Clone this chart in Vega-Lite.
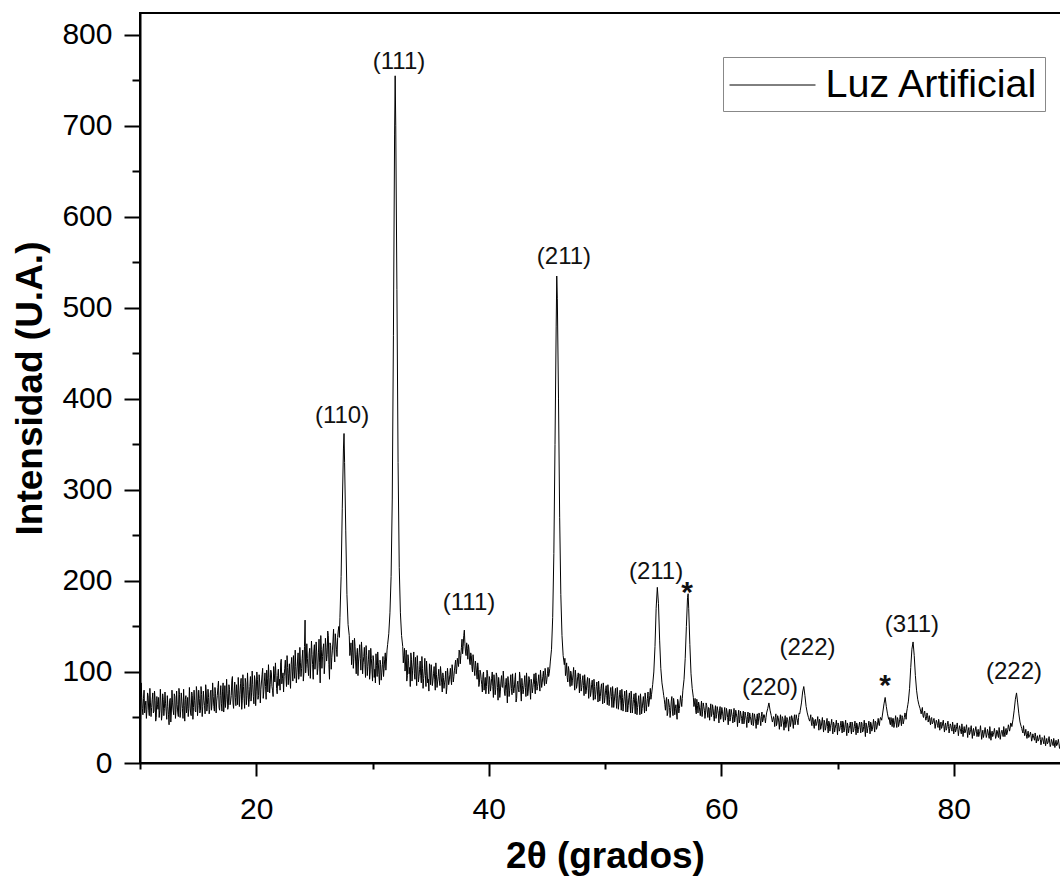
{
"$schema": "https://vega.github.io/schema/vega-lite/v6.json",
"width": 930, "height": 750,
"autosize": {"type": "none"},
"padding": {"left": 140, "top": 13, "right": 0, "bottom": 123},
"background": "white",
"config": {"view": {"stroke": "black", "strokeWidth": 2}, "font": "Liberation Sans"},
"layer": [
{
"data": {"values": [
{"x":10.0,"y":62},{"x":10.1,"y":88},{"x":10.2,"y":60},{"x":10.3,"y":71},{"x":10.4,"y":55},{"x":10.5,"y":68},{"x":10.6,"y":59},{"x":10.7,"y":74},{"x":10.8,"y":52},{"x":10.9,"y":66},
{"x":11.0,"y":61},{"x":11.1,"y":77},{"x":11.2,"y":57},{"x":11.3,"y":69},{"x":11.4,"y":50},{"x":11.5,"y":64},{"x":11.6,"y":72},{"x":11.7,"y":58},{"x":11.8,"y":67},{"x":11.9,"y":54},
{"x":12.0,"y":70},{"x":12.1,"y":60},{"x":12.2,"y":65},{"x":12.3,"y":48},{"x":12.4,"y":62},{"x":12.5,"y":42},{"x":12.6,"y":71},{"x":12.7,"y":56},{"x":12.8,"y":66},{"x":12.9,"y":53},
{"x":13.0,"y":73},{"x":13.1,"y":59},{"x":13.2,"y":64},{"x":13.3,"y":51},{"x":13.4,"y":75},{"x":13.5,"y":57},{"x":13.6,"y":68},{"x":13.7,"y":49},{"x":13.8,"y":63},{"x":13.9,"y":70},
{"x":14.0,"y":55},{"x":14.1,"y":72},{"x":14.2,"y":60},{"x":14.3,"y":66},{"x":14.4,"y":52},{"x":14.5,"y":74},{"x":14.6,"y":61},{"x":14.7,"y":69},{"x":14.8,"y":56},{"x":14.9,"y":77},
{"x":15.0,"y":63},{"x":15.1,"y":71},{"x":15.2,"y":58},{"x":15.3,"y":75},{"x":15.4,"y":62},{"x":15.5,"y":69},{"x":15.6,"y":54},{"x":15.7,"y":78},{"x":15.8,"y":64},{"x":15.9,"y":72},
{"x":16.0,"y":59},{"x":16.1,"y":80},{"x":16.2,"y":66},{"x":16.3,"y":73},{"x":16.4,"y":57},{"x":16.5,"y":76},{"x":16.6,"y":68},{"x":16.7,"y":83},{"x":16.8,"y":61},{"x":16.9,"y":74},
{"x":17.0,"y":65},{"x":17.1,"y":79},{"x":17.2,"y":56},{"x":17.3,"y":85},{"x":17.4,"y":70},{"x":17.5,"y":76},{"x":17.6,"y":63},{"x":17.7,"y":81},{"x":17.8,"y":68},{"x":17.9,"y":91},
{"x":18.0,"y":66},{"x":18.1,"y":78},{"x":18.2,"y":72},{"x":18.3,"y":86},{"x":18.4,"y":64},{"x":18.5,"y":80},{"x":18.6,"y":75},{"x":18.7,"y":93},{"x":18.8,"y":69},{"x":18.9,"y":84},
{"x":19.0,"y":60},{"x":19.1,"y":88},{"x":19.2,"y":74},{"x":19.3,"y":81},{"x":19.4,"y":70},{"x":19.5,"y":95},{"x":19.6,"y":77},{"x":19.7,"y":86},{"x":19.8,"y":65},{"x":19.9,"y":90},
{"x":20.0,"y":79},{"x":20.1,"y":92},{"x":20.2,"y":74},{"x":20.3,"y":88},{"x":20.4,"y":81},{"x":20.5,"y":97},{"x":20.6,"y":71},{"x":20.7,"y":90},{"x":20.8,"y":84},{"x":20.9,"y":102},
{"x":21.0,"y":78},{"x":21.1,"y":94},{"x":21.2,"y":86},{"x":21.3,"y":99},{"x":21.4,"y":80},{"x":21.5,"y":106},{"x":21.6,"y":89},{"x":21.7,"y":96},{"x":21.8,"y":76},{"x":21.9,"y":103},
{"x":22.0,"y":92},{"x":22.1,"y":110},{"x":22.2,"y":87},{"x":22.3,"y":99},{"x":22.4,"y":95},{"x":22.5,"y":113},{"x":22.6,"y":84},{"x":22.7,"y":105},{"x":22.8,"y":98},{"x":22.9,"y":91},
{"x":23.0,"y":108},{"x":23.1,"y":101},{"x":23.2,"y":118},{"x":23.3,"y":93},{"x":23.4,"y":106},{"x":23.5,"y":99},{"x":23.6,"y":121},{"x":23.7,"y":97},{"x":23.8,"y":110},{"x":23.9,"y":104},
{"x":24.0,"y":124},{"x":24.1,"y":100},{"x":24.2,"y":157},{"x":24.3,"y":108},{"x":24.4,"y":115},{"x":24.5,"y":96},{"x":24.6,"y":126},{"x":24.7,"y":111},{"x":24.8,"y":119},{"x":24.9,"y":92},
{"x":25.0,"y":130},{"x":25.1,"y":112},{"x":25.2,"y":122},{"x":25.3,"y":104},{"x":25.4,"y":136},{"x":25.5,"y":88},{"x":25.6,"y":125},{"x":25.7,"y":117},{"x":25.8,"y":131},{"x":25.9,"y":110},
{"x":26.0,"y":127},{"x":26.1,"y":119},{"x":26.2,"y":140},{"x":26.3,"y":92},{"x":26.4,"y":129},{"x":26.5,"y":116},{"x":26.6,"y":134},{"x":26.7,"y":122},{"x":26.8,"y":142},{"x":26.9,"y":125},
{"x":27.0,"y":138},{"x":27.1,"y":150},{"x":27.2,"y":160},{"x":27.3,"y":205},{"x":27.4,"y":280},{"x":27.5,"y":345},{"x":27.55,"y":362},{"x":27.6,"y":330},{"x":27.7,"y":255},{"x":27.8,"y":185},{"x":27.9,"y":152},
{"x":28.0,"y":140},{"x":28.1,"y":124},{"x":28.2,"y":108},{"x":28.3,"y":135},{"x":28.4,"y":115},{"x":28.5,"y":128},{"x":28.6,"y":98},{"x":28.7,"y":126},{"x":28.8,"y":112},{"x":28.9,"y":130},
{"x":29.0,"y":102},{"x":29.1,"y":122},{"x":29.2,"y":110},{"x":29.3,"y":127},{"x":29.4,"y":94},{"x":29.5,"y":118},{"x":29.6,"y":106},{"x":29.7,"y":124},{"x":29.8,"y":100},{"x":29.9,"y":115},
{"x":30.0,"y":90},{"x":30.1,"y":112},{"x":30.2,"y":103},{"x":30.3,"y":120},{"x":30.4,"y":95},{"x":30.5,"y":110},{"x":30.6,"y":86},{"x":30.7,"y":108},{"x":30.8,"y":99},{"x":30.9,"y":117},
{"x":31.0,"y":104},{"x":31.1,"y":121},{"x":31.2,"y":112},{"x":31.3,"y":130},{"x":31.4,"y":142},{"x":31.5,"y":165},{"x":31.6,"y":205},{"x":31.7,"y":290},{"x":31.8,"y":470},{"x":31.9,"y":690},{"x":31.95,"y":755},
{"x":32.0,"y":700},{"x":32.1,"y":520},{"x":32.2,"y":330},{"x":32.3,"y":215},{"x":32.4,"y":165},{"x":32.5,"y":140},{"x":32.6,"y":128},{"x":32.7,"y":118},{"x":32.8,"y":101},{"x":32.9,"y":124},
{"x":33.0,"y":96},{"x":33.1,"y":113},{"x":33.2,"y":105},{"x":33.3,"y":121},{"x":33.4,"y":90},{"x":33.5,"y":110},{"x":33.6,"y":98},{"x":33.7,"y":116},{"x":33.8,"y":85},{"x":33.9,"y":107},
{"x":34.0,"y":95},{"x":34.1,"y":112},{"x":34.2,"y":88},{"x":34.3,"y":104},{"x":34.4,"y":93},{"x":34.5,"y":115},{"x":34.6,"y":84},{"x":34.7,"y":101},{"x":34.8,"y":92},{"x":34.9,"y":109},
{"x":35.0,"y":86},{"x":35.1,"y":99},{"x":35.2,"y":91},{"x":35.3,"y":106},{"x":35.4,"y":80},{"x":35.5,"y":97},{"x":35.6,"y":89},{"x":35.7,"y":103},{"x":35.8,"y":85},{"x":35.9,"y":98},
{"x":36.0,"y":78},{"x":36.1,"y":94},{"x":36.2,"y":88},{"x":36.3,"y":101},{"x":36.4,"y":83},{"x":36.5,"y":96},{"x":36.6,"y":90},{"x":36.7,"y":104},{"x":36.8,"y":86},{"x":36.9,"y":100},
{"x":37.0,"y":95},{"x":37.1,"y":108},{"x":37.2,"y":98},{"x":37.3,"y":115},{"x":37.4,"y":106},{"x":37.5,"y":122},{"x":37.6,"y":118},{"x":37.7,"y":136},{"x":37.8,"y":128},{"x":37.9,"y":146},
{"x":38.0,"y":122},{"x":38.1,"y":132},{"x":38.2,"y":114},{"x":38.3,"y":125},{"x":38.4,"y":108},{"x":38.5,"y":118},{"x":38.6,"y":100},{"x":38.7,"y":112},{"x":38.8,"y":96},{"x":38.9,"y":107},
{"x":39.0,"y":92},{"x":39.1,"y":103},{"x":39.2,"y":88},{"x":39.3,"y":99},{"x":39.4,"y":86},{"x":39.5,"y":97},{"x":39.6,"y":80},{"x":39.7,"y":94},{"x":39.8,"y":84},{"x":39.9,"y":98},
{"x":40.0,"y":76},{"x":40.1,"y":91},{"x":40.2,"y":85},{"x":40.3,"y":100},{"x":40.4,"y":72},{"x":40.5,"y":89},{"x":40.6,"y":81},{"x":40.7,"y":95},{"x":40.8,"y":69},{"x":40.9,"y":87},
{"x":41.0,"y":79},{"x":41.1,"y":96},{"x":41.2,"y":83},{"x":41.3,"y":90},{"x":41.4,"y":74},{"x":41.5,"y":93},{"x":41.6,"y":66},{"x":41.7,"y":88},{"x":41.8,"y":80},{"x":41.9,"y":97},
{"x":42.0,"y":75},{"x":42.1,"y":86},{"x":42.2,"y":82},{"x":42.3,"y":99},{"x":42.4,"y":71},{"x":42.5,"y":90},{"x":42.6,"y":78},{"x":42.7,"y":94},{"x":42.8,"y":68},{"x":42.9,"y":85},
{"x":43.0,"y":81},{"x":43.1,"y":96},{"x":43.2,"y":73},{"x":43.3,"y":89},{"x":43.4,"y":79},{"x":43.5,"y":92},{"x":43.6,"y":70},{"x":43.7,"y":87},{"x":43.8,"y":83},{"x":43.9,"y":98},
{"x":44.0,"y":76},{"x":44.1,"y":91},{"x":44.2,"y":84},{"x":44.3,"y":97},{"x":44.4,"y":79},{"x":44.5,"y":93},{"x":44.6,"y":88},{"x":44.7,"y":101},{"x":44.8,"y":85},{"x":44.9,"y":96},
{"x":45.0,"y":92},{"x":45.1,"y":105},{"x":45.2,"y":98},{"x":45.3,"y":112},{"x":45.4,"y":125},{"x":45.5,"y":160},{"x":45.6,"y":230},{"x":45.7,"y":350},{"x":45.8,"y":480},{"x":45.85,"y":535},{"x":45.9,"y":510},
{"x":46.0,"y":400},{"x":46.1,"y":270},{"x":46.2,"y":185},{"x":46.3,"y":140},{"x":46.4,"y":118},{"x":46.5,"y":108},{"x":46.6,"y":96},{"x":46.7,"y":110},{"x":46.8,"y":89},{"x":46.9,"y":102},
{"x":47.0,"y":84},{"x":47.1,"y":98},{"x":47.2,"y":91},{"x":47.3,"y":105},{"x":47.4,"y":80},{"x":47.5,"y":94},{"x":47.6,"y":86},{"x":47.7,"y":99},{"x":47.8,"y":77},{"x":47.9,"y":92},
{"x":48.0,"y":83},{"x":48.1,"y":96},{"x":48.2,"y":74},{"x":48.3,"y":88},{"x":48.4,"y":80},{"x":48.5,"y":94},{"x":48.6,"y":71},{"x":48.7,"y":86},{"x":48.8,"y":78},{"x":48.9,"y":91},
{"x":49.0,"y":69},{"x":49.1,"y":84},{"x":49.2,"y":75},{"x":49.3,"y":89},{"x":49.4,"y":67},{"x":49.5,"y":81},{"x":49.6,"y":73},{"x":49.7,"y":87},{"x":49.8,"y":65},{"x":49.9,"y":79},
{"x":50.0,"y":72},{"x":50.1,"y":85},{"x":50.2,"y":64},{"x":50.3,"y":78},{"x":50.4,"y":70},{"x":50.5,"y":83},{"x":50.6,"y":61},{"x":50.7,"y":76},{"x":50.8,"y":68},{"x":50.9,"y":82},
{"x":51.0,"y":60},{"x":51.1,"y":74},{"x":51.2,"y":67},{"x":51.3,"y":80},{"x":51.4,"y":58},{"x":51.5,"y":72},{"x":51.6,"y":65},{"x":51.7,"y":79},{"x":51.8,"y":56},{"x":51.9,"y":71},
{"x":52.0,"y":63},{"x":52.1,"y":77},{"x":52.2,"y":55},{"x":52.3,"y":70},{"x":52.4,"y":62},{"x":52.5,"y":76},{"x":52.6,"y":54},{"x":52.7,"y":69},{"x":52.8,"y":61},{"x":52.9,"y":74},
{"x":53.0,"y":53},{"x":53.1,"y":68},{"x":53.2,"y":60},{"x":53.3,"y":73},{"x":53.4,"y":55},{"x":53.5,"y":70},{"x":53.6,"y":64},{"x":53.7,"y":78},{"x":53.8,"y":66},{"x":53.9,"y":82},
{"x":54.0,"y":75},{"x":54.1,"y":86},{"x":54.2,"y":100},{"x":54.3,"y":128},{"x":54.4,"y":170},{"x":54.5,"y":193},{"x":54.6,"y":175},{"x":54.7,"y":135},{"x":54.8,"y":104},{"x":54.9,"y":88},
{"x":55.0,"y":79},{"x":55.1,"y":70},{"x":55.2,"y":58},{"x":55.3,"y":72},{"x":55.4,"y":55},{"x":55.5,"y":66},{"x":55.6,"y":50},{"x":55.7,"y":68},{"x":55.8,"y":57},{"x":55.9,"y":71},
{"x":56.0,"y":53},{"x":56.1,"y":64},{"x":56.2,"y":48},{"x":56.3,"y":67},{"x":56.4,"y":60},{"x":56.5,"y":74},{"x":56.6,"y":62},{"x":56.7,"y":80},{"x":56.8,"y":92},{"x":56.9,"y":115},
{"x":57.0,"y":150},{"x":57.1,"y":182},{"x":57.15,"y":186},{"x":57.2,"y":170},{"x":57.3,"y":130},{"x":57.4,"y":98},{"x":57.5,"y":82},{"x":57.6,"y":72},{"x":57.7,"y":66},{"x":57.8,"y":58},{"x":57.9,"y":70},
{"x":58.0,"y":55},{"x":58.1,"y":64},{"x":58.2,"y":52},{"x":58.3,"y":68},{"x":58.4,"y":57},{"x":58.5,"y":62},{"x":58.6,"y":49},{"x":58.7,"y":66},{"x":58.8,"y":56},{"x":58.9,"y":61},
{"x":59.0,"y":47},{"x":59.1,"y":65},{"x":59.2,"y":54},{"x":59.3,"y":60},{"x":59.4,"y":46},{"x":59.5,"y":63},{"x":59.6,"y":53},{"x":59.7,"y":58},{"x":59.8,"y":44},{"x":59.9,"y":62},
{"x":60.0,"y":52},{"x":60.1,"y":57},{"x":60.2,"y":45},{"x":60.3,"y":61},{"x":60.4,"y":51},{"x":60.5,"y":56},{"x":60.6,"y":42},{"x":60.7,"y":59},{"x":60.8,"y":50},{"x":60.9,"y":55},
{"x":61.0,"y":44},{"x":61.1,"y":60},{"x":61.2,"y":49},{"x":61.3,"y":54},{"x":61.4,"y":40},{"x":61.5,"y":58},{"x":61.6,"y":48},{"x":61.7,"y":53},{"x":61.8,"y":43},{"x":61.9,"y":57},
{"x":62.0,"y":47},{"x":62.1,"y":52},{"x":62.2,"y":39},{"x":62.3,"y":56},{"x":62.4,"y":46},{"x":62.5,"y":51},{"x":62.6,"y":42},{"x":62.7,"y":55},{"x":62.8,"y":45},{"x":62.9,"y":50},
{"x":63.0,"y":38},{"x":63.1,"y":54},{"x":63.2,"y":46},{"x":63.3,"y":52},{"x":63.4,"y":41},{"x":63.5,"y":56},{"x":63.6,"y":47},{"x":63.7,"y":53},{"x":63.8,"y":44},{"x":63.9,"y":55},
{"x":64.0,"y":60},{"x":64.1,"y":66},{"x":64.2,"y":58},{"x":64.3,"y":52},{"x":64.4,"y":45},{"x":64.5,"y":51},{"x":64.6,"y":40},{"x":64.7,"y":54},{"x":64.8,"y":44},{"x":64.9,"y":50},
{"x":65.0,"y":37},{"x":65.1,"y":53},{"x":65.2,"y":43},{"x":65.3,"y":49},{"x":65.4,"y":36},{"x":65.5,"y":52},{"x":65.6,"y":42},{"x":65.7,"y":48},{"x":65.8,"y":35},{"x":65.9,"y":51},
{"x":66.0,"y":44},{"x":66.1,"y":50},{"x":66.2,"y":38},{"x":66.3,"y":53},{"x":66.4,"y":45},{"x":66.5,"y":49},{"x":66.6,"y":42},{"x":66.7,"y":55},{"x":66.8,"y":58},{"x":66.9,"y":66},
{"x":67.0,"y":78},{"x":67.1,"y":84},{"x":67.2,"y":74},{"x":67.3,"y":62},{"x":67.4,"y":55},{"x":67.5,"y":50},{"x":67.6,"y":46},{"x":67.7,"y":53},{"x":67.8,"y":41},{"x":67.9,"y":49},
{"x":68.0,"y":38},{"x":68.1,"y":48},{"x":68.2,"y":43},{"x":68.3,"y":51},{"x":68.4,"y":36},{"x":68.5,"y":46},{"x":68.6,"y":40},{"x":68.7,"y":50},{"x":68.8,"y":34},{"x":68.9,"y":45},
{"x":69.0,"y":39},{"x":69.1,"y":49},{"x":69.2,"y":33},{"x":69.3,"y":44},{"x":69.4,"y":41},{"x":69.5,"y":48},{"x":69.6,"y":32},{"x":69.7,"y":43},{"x":69.8,"y":38},{"x":69.9,"y":47},
{"x":70.0,"y":31},{"x":70.1,"y":42},{"x":70.2,"y":37},{"x":70.3,"y":46},{"x":70.4,"y":33},{"x":70.5,"y":44},{"x":70.6,"y":36},{"x":70.7,"y":47},{"x":70.8,"y":30},{"x":70.9,"y":41},
{"x":71.0,"y":38},{"x":71.1,"y":45},{"x":71.2,"y":32},{"x":71.3,"y":43},{"x":71.4,"y":36},{"x":71.5,"y":46},{"x":71.6,"y":31},{"x":71.7,"y":42},{"x":71.8,"y":37},{"x":71.9,"y":45},
{"x":72.0,"y":33},{"x":72.1,"y":44},{"x":72.2,"y":35},{"x":72.3,"y":47},{"x":72.4,"y":29},{"x":72.5,"y":42},{"x":72.6,"y":38},{"x":72.7,"y":46},{"x":72.8,"y":32},{"x":72.9,"y":43},
{"x":73.0,"y":37},{"x":73.1,"y":48},{"x":73.2,"y":34},{"x":73.3,"y":45},{"x":73.4,"y":39},{"x":73.5,"y":49},{"x":73.6,"y":41},{"x":73.7,"y":50},{"x":73.8,"y":47},{"x":73.9,"y":56},
{"x":74.0,"y":65},{"x":74.1,"y":72},{"x":74.2,"y":62},{"x":74.3,"y":54},{"x":74.4,"y":48},{"x":74.5,"y":44},{"x":74.6,"y":50},{"x":74.7,"y":40},{"x":74.8,"y":49},{"x":74.9,"y":42},
{"x":75.0,"y":52},{"x":75.1,"y":39},{"x":75.2,"y":48},{"x":75.3,"y":43},{"x":75.4,"y":53},{"x":75.5,"y":41},{"x":75.6,"y":50},{"x":75.7,"y":46},{"x":75.8,"y":55},{"x":75.9,"y":48},
{"x":76.0,"y":60},{"x":76.1,"y":68},{"x":76.2,"y":82},{"x":76.3,"y":105},{"x":76.4,"y":125},{"x":76.5,"y":133},{"x":76.6,"y":118},{"x":76.7,"y":96},{"x":76.8,"y":80},{"x":76.9,"y":70},
{"x":77.0,"y":64},{"x":77.1,"y":60},{"x":77.2,"y":54},{"x":77.3,"y":61},{"x":77.4,"y":50},{"x":77.5,"y":57},{"x":77.6,"y":47},{"x":77.7,"y":55},{"x":77.8,"y":45},{"x":77.9,"y":52},
{"x":78.0,"y":42},{"x":78.1,"y":50},{"x":78.2,"y":44},{"x":78.3,"y":49},{"x":78.4,"y":38},{"x":78.5,"y":47},{"x":78.6,"y":41},{"x":78.7,"y":48},{"x":78.8,"y":36},{"x":78.9,"y":45},
{"x":79.0,"y":40},{"x":79.1,"y":47},{"x":79.2,"y":34},{"x":79.3,"y":44},{"x":79.4,"y":38},{"x":79.5,"y":46},{"x":79.6,"y":33},{"x":79.7,"y":43},{"x":79.8,"y":37},{"x":79.9,"y":45},
{"x":80.0,"y":32},{"x":80.1,"y":42},{"x":80.2,"y":36},{"x":80.3,"y":44},{"x":80.4,"y":30},{"x":80.5,"y":41},{"x":80.6,"y":35},{"x":80.7,"y":43},{"x":80.8,"y":29},{"x":80.9,"y":40},
{"x":81.0,"y":34},{"x":81.1,"y":42},{"x":81.2,"y":28},{"x":81.3,"y":39},{"x":81.4,"y":33},{"x":81.5,"y":41},{"x":81.6,"y":27},{"x":81.7,"y":38},{"x":81.8,"y":33},{"x":81.9,"y":40},
{"x":82.0,"y":29},{"x":82.1,"y":37},{"x":82.2,"y":32},{"x":82.3,"y":41},{"x":82.4,"y":26},{"x":82.5,"y":36},{"x":82.6,"y":31},{"x":82.7,"y":39},{"x":82.8,"y":28},{"x":82.9,"y":37},
{"x":83.0,"y":30},{"x":83.1,"y":40},{"x":83.2,"y":25},{"x":83.3,"y":35},{"x":83.4,"y":31},{"x":83.5,"y":38},{"x":83.6,"y":27},{"x":83.7,"y":36},{"x":83.8,"y":30},{"x":83.9,"y":39},
{"x":84.0,"y":26},{"x":84.1,"y":35},{"x":84.2,"y":32},{"x":84.3,"y":40},{"x":84.4,"y":29},{"x":84.5,"y":38},{"x":84.6,"y":33},{"x":84.7,"y":42},{"x":84.8,"y":35},{"x":84.9,"y":44},
{"x":85.0,"y":40},{"x":85.1,"y":48},{"x":85.2,"y":58},{"x":85.3,"y":70},{"x":85.4,"y":77},{"x":85.5,"y":66},{"x":85.6,"y":54},{"x":85.7,"y":45},{"x":85.8,"y":40},{"x":85.9,"y":35},
{"x":86.0,"y":41},{"x":86.1,"y":30},{"x":86.2,"y":37},{"x":86.3,"y":27},{"x":86.4,"y":35},{"x":86.5,"y":29},{"x":86.6,"y":34},{"x":86.7,"y":24},{"x":86.8,"y":32},{"x":86.9,"y":27},
{"x":87.0,"y":33},{"x":87.1,"y":22},{"x":87.2,"y":30},{"x":87.3,"y":25},{"x":87.4,"y":31},{"x":87.5,"y":20},{"x":87.6,"y":28},{"x":87.7,"y":24},{"x":87.8,"y":30},{"x":87.9,"y":19},
{"x":88.0,"y":27},{"x":88.1,"y":22},{"x":88.2,"y":29},{"x":88.3,"y":18},{"x":88.4,"y":26},{"x":88.5,"y":21},{"x":88.6,"y":27},{"x":88.7,"y":17},{"x":88.8,"y":25},{"x":88.9,"y":20},
{"x":89.0,"y":26},{"x":89.1,"y":16},{"x":89.2,"y":24},{"x":89.3,"y":19},{"x":89.4,"y":25},{"x":89.5,"y":15},{"x":89.6,"y":23},{"x":89.7,"y":18},{"x":89.8,"y":24},{"x":89.9,"y":16},{"x":90.0,"y":22},
{"x":10.05,"y":48},{"x":10.15,"y":72},{"x":10.25,"y":53},{"x":10.35,"y":80},{"x":10.45,"y":63},{"x":10.55,"y":49},{"x":10.65,"y":77},{"x":10.75,"y":58},{"x":10.85,"y":82},{"x":10.95,"y":51},
{"x":11.05,"y":70},{"x":11.15,"y":55},{"x":11.25,"y":79},{"x":11.35,"y":46},{"x":11.45,"y":73},{"x":11.55,"y":59},{"x":11.65,"y":50},{"x":11.75,"y":81},{"x":11.85,"y":47},{"x":11.95,"y":76},
{"x":12.05,"y":52},{"x":12.15,"y":78},{"x":12.25,"y":57},{"x":12.35,"y":74},{"x":12.45,"y":53},{"x":12.55,"y":69},{"x":12.65,"y":45},{"x":12.75,"y":80},{"x":12.85,"y":58},{"x":12.95,"y":76},
{"x":13.05,"y":49},{"x":13.15,"y":79},{"x":13.25,"y":55},{"x":13.35,"y":82},{"x":13.45,"y":50},{"x":13.55,"y":77},{"x":13.65,"y":60},{"x":13.75,"y":81},{"x":13.85,"y":46},{"x":13.95,"y":74},
{"x":14.05,"y":62},{"x":14.15,"y":51},{"x":14.25,"y":83},{"x":14.35,"y":55},{"x":14.45,"y":78},{"x":14.55,"y":48},{"x":14.65,"y":80},{"x":14.75,"y":57},{"x":14.85,"y":84},{"x":14.95,"y":52},
{"x":15.05,"y":80},{"x":15.15,"y":55},{"x":15.25,"y":84},{"x":15.35,"y":51},{"x":15.45,"y":79},{"x":15.55,"y":63},{"x":15.65,"y":86},{"x":15.75,"y":57},{"x":15.85,"y":81},{"x":15.95,"y":54},
{"x":16.05,"y":77},{"x":16.15,"y":58},{"x":16.25,"y":88},{"x":16.35,"y":62},{"x":16.45,"y":83},{"x":16.55,"y":55},{"x":16.65,"y":74},{"x":16.75,"y":90},{"x":16.85,"y":58},{"x":16.95,"y":85},
{"x":17.05,"y":57},{"x":17.15,"y":88},{"x":17.25,"y":66},{"x":17.35,"y":61},{"x":17.45,"y":92},{"x":17.55,"y":59},{"x":17.65,"y":86},{"x":17.75,"y":64},{"x":17.85,"y":74},{"x":17.95,"y":95},
{"x":18.05,"y":60},{"x":18.15,"y":89},{"x":18.25,"y":63},{"x":18.35,"y":76},{"x":18.45,"y":94},{"x":18.55,"y":62},{"x":18.65,"y":87},{"x":18.75,"y":59},{"x":18.85,"y":97},{"x":18.95,"y":71},
{"x":19.05,"y":93},{"x":19.15,"y":64},{"x":19.25,"y":99},{"x":19.35,"y":62},{"x":19.45,"y":84},{"x":19.55,"y":68},{"x":19.65,"y":101},{"x":19.75,"y":73},{"x":19.85,"y":96},{"x":19.95,"y":63},
{"x":20.05,"y":100},{"x":20.15,"y":70},{"x":20.25,"y":97},{"x":20.35,"y":66},{"x":20.45,"y":89},{"x":20.55,"y":104},{"x":20.65,"y":79},{"x":20.75,"y":99},{"x":20.85,"y":70},{"x":20.95,"y":93},
{"x":21.05,"y":108},{"x":21.15,"y":77},{"x":21.25,"y":102},{"x":21.35,"y":84},{"x":21.45,"y":73},{"x":21.55,"y":98},{"x":21.65,"y":110},{"x":21.75,"y":82},{"x":21.85,"y":96},{"x":21.95,"y":85},
{"x":22.05,"y":80},{"x":22.15,"y":114},{"x":22.25,"y":93},{"x":22.35,"y":78},{"x":22.45,"y":104},{"x":22.55,"y":96},{"x":22.65,"y":118},{"x":22.75,"y":86},{"x":22.85,"y":109},{"x":22.95,"y":82},
{"x":23.05,"y":116},{"x":23.15,"y":90},{"x":23.25,"y":103},{"x":23.35,"y":124},{"x":23.45,"y":88},{"x":23.55,"y":112},{"x":23.65,"y":92},{"x":23.75,"y":127},{"x":23.85,"y":95},{"x":23.95,"y":115},
{"x":24.05,"y":90},{"x":24.15,"y":128},{"x":24.25,"y":99},{"x":24.35,"y":131},{"x":24.45,"y":104},{"x":24.55,"y":120},{"x":24.65,"y":93},{"x":24.75,"y":134},{"x":24.85,"y":108},{"x":24.95,"y":122},
{"x":25.05,"y":103},{"x":25.15,"y":133},{"x":25.25,"y":97},{"x":25.35,"y":121},{"x":25.45,"y":110},{"x":25.55,"y":140},{"x":25.65,"y":104},{"x":25.75,"y":126},{"x":25.85,"y":98},{"x":25.95,"y":137},
{"x":26.05,"y":112},{"x":26.15,"y":145},{"x":26.25,"y":108},{"x":26.35,"y":132},{"x":26.45,"y":103},{"x":26.55,"y":124},{"x":26.65,"y":147},{"x":26.75,"y":111},{"x":26.85,"y":133},{"x":26.95,"y":117},
{"x":27.05,"y":145},{"x":27.15,"y":138},
{"x":28.05,"y":118},{"x":28.15,"y":132},{"x":28.25,"y":121},{"x":28.35,"y":104},{"x":28.45,"y":137},{"x":28.55,"y":111},{"x":28.65,"y":119},{"x":28.75,"y":96},{"x":28.85,"y":121},{"x":28.95,"y":115},
{"x":29.05,"y":133},{"x":29.15,"y":98},{"x":29.25,"y":117},{"x":29.35,"y":108},{"x":29.45,"y":129},{"x":29.55,"y":96},{"x":29.65,"y":114},{"x":29.75,"y":92},{"x":29.85,"y":126},{"x":29.95,"y":103},
{"x":30.05,"y":118},{"x":30.15,"y":94},{"x":30.25,"y":88},{"x":30.35,"y":107},{"x":30.45,"y":122},{"x":30.55,"y":97},{"x":30.65,"y":113},{"x":30.75,"y":91},{"x":30.85,"y":108},{"x":30.95,"y":95},
{"x":31.05,"y":114},{"x":31.15,"y":102},{"x":31.25,"y":124},
{"x":32.65,"y":110},{"x":32.75,"y":126},{"x":32.85,"y":112},{"x":32.95,"y":90},{"x":33.05,"y":119},{"x":33.15,"y":98},{"x":33.25,"y":84},{"x":33.35,"y":114},{"x":33.45,"y":102},{"x":33.55,"y":122},
{"x":33.65,"y":92},{"x":33.75,"y":100},{"x":33.85,"y":118},{"x":33.95,"y":89},{"x":34.05,"y":103},{"x":34.15,"y":96},{"x":34.25,"y":117},{"x":34.35,"y":82},{"x":34.45,"y":101},{"x":34.55,"y":96},
{"x":34.65,"y":112},{"x":34.75,"y":88},{"x":34.85,"y":79},{"x":34.95,"y":100},{"x":35.05,"y":108},{"x":35.15,"y":85},{"x":35.25,"y":98},{"x":35.35,"y":92},{"x":35.45,"y":110},{"x":35.55,"y":83},
{"x":35.65,"y":95},{"x":35.75,"y":91},{"x":35.85,"y":106},{"x":35.95,"y":88},{"x":36.05,"y":99},{"x":36.15,"y":82},{"x":36.25,"y":92},{"x":36.35,"y":76},{"x":36.45,"y":104},{"x":36.55,"y":86},
{"x":36.65,"y":97},{"x":36.75,"y":92},{"x":36.85,"y":108},{"x":36.95,"y":89},{"x":37.05,"y":102},{"x":37.15,"y":113},{"x":37.25,"y":104},{"x":37.35,"y":110},{"x":37.45,"y":124},{"x":37.55,"y":109},
{"x":37.65,"y":127},{"x":37.75,"y":120},{"x":37.85,"y":140},{"x":37.95,"y":131},{"x":38.05,"y":118},{"x":38.15,"y":126},{"x":38.25,"y":130},{"x":38.35,"y":112},{"x":38.45,"y":121},{"x":38.55,"y":106},
{"x":38.65,"y":119},{"x":38.75,"y":102},{"x":38.85,"y":112},{"x":38.95,"y":99},{"x":39.05,"y":110},{"x":39.15,"y":84},{"x":39.25,"y":102},{"x":39.35,"y":92},{"x":39.45,"y":78},{"x":39.55,"y":100},
{"x":39.65,"y":88},{"x":39.75,"y":76},{"x":39.85,"y":102},{"x":39.95,"y":86},{"x":40.05,"y":95},{"x":40.15,"y":79},{"x":40.25,"y":93},{"x":40.35,"y":84},{"x":40.45,"y":97},{"x":40.55,"y":75},
{"x":40.65,"y":99},{"x":40.75,"y":83},{"x":40.85,"y":94},{"x":40.95,"y":72},{"x":41.05,"y":90},{"x":41.15,"y":84},{"x":41.25,"y":101},{"x":41.35,"y":78},{"x":41.45,"y":86},{"x":41.55,"y":80},
{"x":41.65,"y":95},{"x":41.75,"y":73},{"x":41.85,"y":89},{"x":41.95,"y":82},{"x":42.05,"y":98},{"x":42.15,"y":77},{"x":42.25,"y":92},{"x":42.35,"y":67},{"x":42.45,"y":86},{"x":42.55,"y":81},
{"x":42.65,"y":100},{"x":42.75,"y":79},{"x":42.85,"y":93},{"x":42.95,"y":76},{"x":43.05,"y":88},{"x":43.15,"y":83},{"x":43.25,"y":99},{"x":43.35,"y":74},{"x":43.45,"y":95},{"x":43.55,"y":80},
{"x":43.65,"y":92},{"x":43.75,"y":77},{"x":43.85,"y":90},{"x":43.95,"y":86},{"x":44.05,"y":99},{"x":44.15,"y":80},{"x":44.25,"y":90},{"x":44.35,"y":87},{"x":44.45,"y":102},{"x":44.55,"y":83},
{"x":44.65,"y":95},{"x":44.75,"y":90},{"x":44.85,"y":104},{"x":44.95,"y":87},{"x":45.05,"y":98},{"x":45.15,"y":95},{"x":45.25,"y":104},
{"x":46.55,"y":115},{"x":46.65,"y":100},{"x":46.75,"y":94},{"x":46.85,"y":106},{"x":46.95,"y":90},{"x":47.05,"y":101},{"x":47.15,"y":85},{"x":47.25,"y":97},{"x":47.35,"y":88},{"x":47.45,"y":102},
{"x":47.55,"y":82},{"x":47.65,"y":95},{"x":47.75,"y":90},{"x":47.85,"y":98},{"x":47.95,"y":79},{"x":48.05,"y":91},{"x":48.15,"y":85},{"x":48.25,"y":97},{"x":48.35,"y":76},{"x":48.45,"y":89},
{"x":48.55,"y":82},{"x":48.65,"y":93},{"x":48.75,"y":73},{"x":48.85,"y":86},{"x":48.95,"y":80},{"x":49.05,"y":92},{"x":49.15,"y":70},{"x":49.25,"y":84},{"x":49.35,"y":78},{"x":49.45,"y":90},
{"x":49.55,"y":68},{"x":49.65,"y":82},{"x":49.75,"y":76},{"x":49.85,"y":88},{"x":49.95,"y":66},{"x":50.05,"y":80},{"x":50.15,"y":74},{"x":50.25,"y":86},{"x":50.35,"y":63},{"x":50.45,"y":78},
{"x":50.55,"y":73},{"x":50.65,"y":84},{"x":50.75,"y":61},{"x":50.85,"y":76},{"x":50.95,"y":71},{"x":51.05,"y":83},{"x":51.15,"y":59},{"x":51.25,"y":75},{"x":51.35,"y":69},{"x":51.45,"y":81},
{"x":51.55,"y":57},{"x":51.65,"y":73},{"x":51.75,"y":67},{"x":51.85,"y":80},{"x":51.95,"y":56},{"x":52.05,"y":72},{"x":52.15,"y":66},{"x":52.25,"y":79},{"x":52.35,"y":55},{"x":52.45,"y":70},
{"x":52.55,"y":65},{"x":52.65,"y":77},{"x":52.75,"y":53},{"x":52.85,"y":68},{"x":52.95,"y":64},{"x":53.05,"y":76},{"x":53.15,"y":54},{"x":53.25,"y":67},{"x":53.35,"y":63},{"x":53.45,"y":77},
{"x":53.55,"y":57},{"x":53.65,"y":71},{"x":53.75,"y":62},{"x":53.85,"y":74},{"x":53.95,"y":70},
{"x":55.05,"y":74},{"x":55.15,"y":64},{"x":55.25,"y":68},{"x":55.35,"y":52},{"x":55.45,"y":70},{"x":55.55,"y":61},{"x":55.65,"y":58},{"x":55.75,"y":73},{"x":55.85,"y":52},{"x":55.95,"y":66},
{"x":56.05,"y":60},{"x":56.15,"y":56},{"x":56.25,"y":70},{"x":56.35,"y":55},{"x":56.45,"y":66},{"x":56.55,"y":68},{"x":56.65,"y":71},
{"x":57.65,"y":62},{"x":57.75,"y":71},{"x":57.85,"y":54},{"x":57.95,"y":63},{"x":58.05,"y":67},{"x":58.15,"y":57},{"x":58.25,"y":61},{"x":58.35,"y":51},{"x":58.45,"y":66},{"x":58.55,"y":58},
{"x":58.65,"y":55},{"x":58.75,"y":63},{"x":58.85,"y":50},{"x":58.95,"y":60},{"x":59.05,"y":58},{"x":59.15,"y":51},{"x":59.25,"y":64},{"x":59.35,"y":52},{"x":59.45,"y":57},{"x":59.55,"y":49},
{"x":59.65,"y":62},{"x":59.75,"y":54},{"x":59.85,"y":58},{"x":59.95,"y":48},{"x":60.05,"y":61},{"x":60.15,"y":51},{"x":60.25,"y":56},{"x":60.35,"y":47},{"x":60.45,"y":60},{"x":60.55,"y":50},
{"x":60.65,"y":55},{"x":60.75,"y":46},{"x":60.85,"y":59},{"x":60.95,"y":51},{"x":61.05,"y":53},{"x":61.15,"y":45},{"x":61.25,"y":58},{"x":61.35,"y":50},{"x":61.45,"y":52},{"x":61.55,"y":44},
{"x":61.65,"y":57},{"x":61.75,"y":49},{"x":61.85,"y":52},{"x":61.95,"y":43},{"x":62.05,"y":56},{"x":62.15,"y":48},{"x":62.25,"y":51},{"x":62.35,"y":44},{"x":62.45,"y":55},{"x":62.55,"y":47},
{"x":62.65,"y":50},{"x":62.75,"y":41},{"x":62.85,"y":54},{"x":62.95,"y":46},{"x":63.05,"y":49},{"x":63.15,"y":42},{"x":63.25,"y":55},{"x":63.35,"y":47},{"x":63.45,"y":51},{"x":63.55,"y":45},
{"x":63.65,"y":53},{"x":63.75,"y":49},{"x":63.85,"y":50},
{"x":64.45,"y":48},{"x":64.55,"y":47},{"x":64.65,"y":50},{"x":64.75,"y":41},{"x":64.85,"y":52},{"x":64.95,"y":45},{"x":65.05,"y":47},{"x":65.15,"y":40},{"x":65.25,"y":51},{"x":65.35,"y":44},
{"x":65.45,"y":46},{"x":65.55,"y":39},{"x":65.65,"y":50},{"x":65.75,"y":43},{"x":65.85,"y":47},{"x":65.95,"y":40},{"x":66.05,"y":52},{"x":66.15,"y":45},{"x":66.25,"y":48},{"x":66.35,"y":42},
{"x":66.45,"y":53},{"x":66.55,"y":47},{"x":66.65,"y":50},{"x":66.75,"y":54},
{"x":67.65,"y":49},{"x":67.75,"y":44},{"x":67.85,"y":50},{"x":67.95,"y":42},{"x":68.05,"y":47},{"x":68.15,"y":41},{"x":68.25,"y":46},{"x":68.35,"y":43},{"x":68.45,"y":48},{"x":68.55,"y":37},
{"x":68.65,"y":45},{"x":68.75,"y":41},{"x":68.85,"y":47},{"x":68.95,"y":36},{"x":69.05,"y":44},{"x":69.15,"y":40},{"x":69.25,"y":46},{"x":69.35,"y":35},{"x":69.45,"y":43},{"x":69.55,"y":39},
{"x":69.65,"y":45},{"x":69.75,"y":34},{"x":69.85,"y":42},{"x":69.95,"y":40},{"x":70.05,"y":44},{"x":70.15,"y":35},{"x":70.25,"y":41},{"x":70.35,"y":39},{"x":70.45,"y":46},{"x":70.55,"y":34},
{"x":70.65,"y":42},{"x":70.75,"y":38},{"x":70.85,"y":44},{"x":70.95,"y":33},{"x":71.05,"y":41},{"x":71.15,"y":37},{"x":71.25,"y":45},{"x":71.35,"y":34},{"x":71.45,"y":40},{"x":71.55,"y":38},
{"x":71.65,"y":44},{"x":71.75,"y":33},{"x":71.85,"y":41},{"x":71.95,"y":39},{"x":72.05,"y":45},{"x":72.15,"y":34},{"x":72.25,"y":40},{"x":72.35,"y":37},{"x":72.45,"y":44},{"x":72.55,"y":33},
{"x":72.65,"y":41},{"x":72.75,"y":39},{"x":72.85,"y":45},{"x":72.95,"y":35},{"x":73.05,"y":42},{"x":73.15,"y":40},{"x":73.25,"y":46},{"x":73.35,"y":37},{"x":73.45,"y":44},{"x":73.55,"y":43},
{"x":73.65,"y":47},{"x":73.75,"y":49},
{"x":74.45,"y":50},{"x":74.55,"y":42},{"x":74.65,"y":46},{"x":74.75,"y":49},{"x":74.85,"y":39},{"x":74.95,"y":47},{"x":75.05,"y":44},{"x":75.15,"y":50},{"x":75.25,"y":40},{"x":75.35,"y":48},
{"x":75.45,"y":46},{"x":75.55,"y":52},{"x":75.65,"y":43},{"x":75.75,"y":50},{"x":75.85,"y":53},{"x":75.95,"y":56},{"x":76.05,"y":64},
{"x":77.15,"y":57},{"x":77.25,"y":58},{"x":77.35,"y":52},{"x":77.45,"y":55},{"x":77.55,"y":51},{"x":77.65,"y":49},{"x":77.75,"y":52},{"x":77.85,"y":48},{"x":77.95,"y":46},{"x":78.05,"y":49},
{"x":78.15,"y":43},{"x":78.25,"y":47},{"x":78.35,"y":44},{"x":78.45,"y":43},{"x":78.55,"y":45},{"x":78.65,"y":39},{"x":78.75,"y":44},{"x":78.85,"y":42},{"x":78.95,"y":38},{"x":79.05,"y":44},
{"x":79.15,"y":40},{"x":79.25,"y":41},{"x":79.35,"y":36},{"x":79.45,"y":42},{"x":79.55,"y":40},{"x":79.65,"y":38},{"x":79.75,"y":41},{"x":79.85,"y":35},{"x":79.95,"y":40},{"x":80.05,"y":38},
{"x":80.15,"y":34},{"x":80.25,"y":40},{"x":80.35,"y":37},{"x":80.45,"y":36},{"x":80.55,"y":38},{"x":80.65,"y":32},{"x":80.75,"y":37},{"x":80.85,"y":36},{"x":80.95,"y":33},{"x":81.05,"y":38},
{"x":81.15,"y":35},{"x":81.25,"y":36},{"x":81.35,"y":31},{"x":81.45,"y":37},{"x":81.55,"y":34},{"x":81.65,"y":35},{"x":81.75,"y":30},{"x":81.85,"y":36},{"x":81.95,"y":35},{"x":82.05,"y":33},
{"x":82.15,"y":29},{"x":82.25,"y":35},{"x":82.35,"y":34},{"x":82.45,"y":32},{"x":82.55,"y":28},{"x":82.65,"y":35},{"x":82.75,"y":33},{"x":82.85,"y":31},{"x":82.95,"y":34},{"x":83.05,"y":27},
{"x":83.15,"y":34},{"x":83.25,"y":32},{"x":83.35,"y":29},{"x":83.45,"y":34},{"x":83.55,"y":33},{"x":83.65,"y":29},{"x":83.75,"y":35},{"x":83.85,"y":28},{"x":83.95,"y":33},{"x":84.05,"y":31},
{"x":84.15,"y":36},{"x":84.25,"y":29},{"x":84.35,"y":34},{"x":84.45,"y":35},{"x":84.55,"y":31},{"x":84.65,"y":37},{"x":84.75,"y":39},{"x":84.85,"y":38},{"x":84.95,"y":43},
{"x":85.85,"y":38},{"x":85.95,"y":33},{"x":86.05,"y":35},{"x":86.15,"y":33},{"x":86.25,"y":31},{"x":86.35,"y":32},{"x":86.45,"y":28},{"x":86.55,"y":31},{"x":86.65,"y":30},{"x":86.75,"y":27},
{"x":86.85,"y":30},{"x":86.95,"y":25},{"x":87.05,"y":29},{"x":87.15,"y":27},{"x":87.25,"y":24},{"x":87.35,"y":28},{"x":87.45,"y":26},{"x":87.55,"y":23},{"x":87.65,"y":27},{"x":87.75,"y":21},
{"x":87.85,"y":25},{"x":87.95,"y":24},{"x":88.05,"y":21},{"x":88.15,"y":25},{"x":88.25,"y":23},{"x":88.35,"y":20},{"x":88.45,"y":24},{"x":88.55,"y":19},{"x":88.65,"y":22},{"x":88.75,"y":22},
{"x":88.85,"y":19},{"x":88.95,"y":23},{"x":89.05,"y":21},{"x":89.15,"y":18},{"x":89.25,"y":22},{"x":89.35,"y":20},{"x":89.45,"y":17},{"x":89.55,"y":21},{"x":89.65,"y":19},{"x":89.75,"y":16},
{"x":89.85,"y":20},{"x":89.95,"y":18}
]},
"mark": {"type": "line", "strokeWidth": 1, "clip": true},
"encoding": {
"x": {"field": "x", "type": "quantitative", "title": "2θ (grados)",
 "scale": {"domain": [10, 90], "nice": false, "zero": false},
 "axis": {"values": [10,20,30,40,50,60,70,80,90], "labelExpr": "datum.value % 20 === 0 ? datum.label : ''",
  "tickSize": {"condition": {"test": "datum.value % 20 === 0", "value": 13}, "value": 6},
  "tickWidth": 2, "tickColor": "black", "domainColor": "black", "domainWidth": 2,
  "labelFontSize": 30, "labelColor": "black", "labelPadding": 18, "labelFont": "Liberation Sans", "labelOverlap": false, "labelFlush": false,
  "titleFontSize": 37, "titleFontWeight": "bold", "titleColor": "black", "titleFont": "Liberation Sans", "titlePadding": 14, "grid": false}},
"y": {"field": "y", "type": "quantitative", "title": "Intensidad (U.A.)",
 "scale": {"domain": [0, 824], "nice": false},
 "axis": {"values": [0,50,100,150,200,250,300,350,400,450,500,550,600,650,700,750,800], "labelExpr": "datum.value % 100 === 0 ? datum.label : ''",
  "tickSize": {"condition": {"test": "datum.value % 100 === 0", "value": 16}, "value": 8},
  "tickWidth": 2, "tickColor": "black", "domainColor": "black", "domainWidth": 2,
  "labelFontSize": 30, "labelColor": "black", "labelPadding": 12, "labelFont": "Liberation Sans", "labelOverlap": false,
  "titleFontSize": 37, "titleFontWeight": "bold", "titleColor": "black", "titleFont": "Liberation Sans", "titlePadding": 12, "grid": false}},
"color": {"datum": "Luz Artificial", "type": "nominal", "scale": {"range": ["black"]},
 "legend": {"title": null, "orient": "none", "legendX": 583, "legendY": 44, "symbolType": "M-2,0L2,0", "symbolSize": 1849, "symbolStrokeWidth": 1, "symbolOffset": 21.5,
  "labelFontSize": 39.5, "labelFont": "Liberation Sans", "labelColor": "black", "labelLimit": 0, "strokeColor": "#888", "fillColor": "white", "padding": 6, "labelOffset": 31}}
}
},
{
"data": {"values": [
{"x": 27.38, "y": 381, "t": "(110)"},
{"x": 32.28, "y": 770, "t": "(111)"},
{"x": 46.47, "y": 556, "t": "(211)"},
{"x": 38.3, "y": 176, "t": "(111)"},
{"x": 54.39, "y": 210, "t": "(211)"},
{"x": 64.19, "y": 82, "t": "(220)"},
{"x": 67.42, "y": 126, "t": "(222)"},
{"x": 76.4, "y": 152, "t": "(311)"},
{"x": 85.18, "y": 100, "t": "(222)"}
]},
"mark": {"type": "text", "fontSize": 24, "baseline": "middle", "align": "center", "color": "#111", "font": "Liberation Sans"},
"encoding": {"x": {"field": "x", "type": "quantitative"}, "y": {"field": "y", "type": "quantitative"}, "text": {"field": "t"}}
},
{
"data": {"values": [
{"x": 57.06, "y": 177, "t": "*"},
{"x": 74.1, "y": 75, "t": "*"}
]},
"mark": {"type": "text", "fontSize": 30, "fontWeight": "bold", "baseline": "alphabetic", "align": "center", "color": "#111", "font": "Liberation Sans"},
"encoding": {"x": {"field": "x", "type": "quantitative"}, "y": {"field": "y", "type": "quantitative"}, "text": {"field": "t"}}
}
]
}
